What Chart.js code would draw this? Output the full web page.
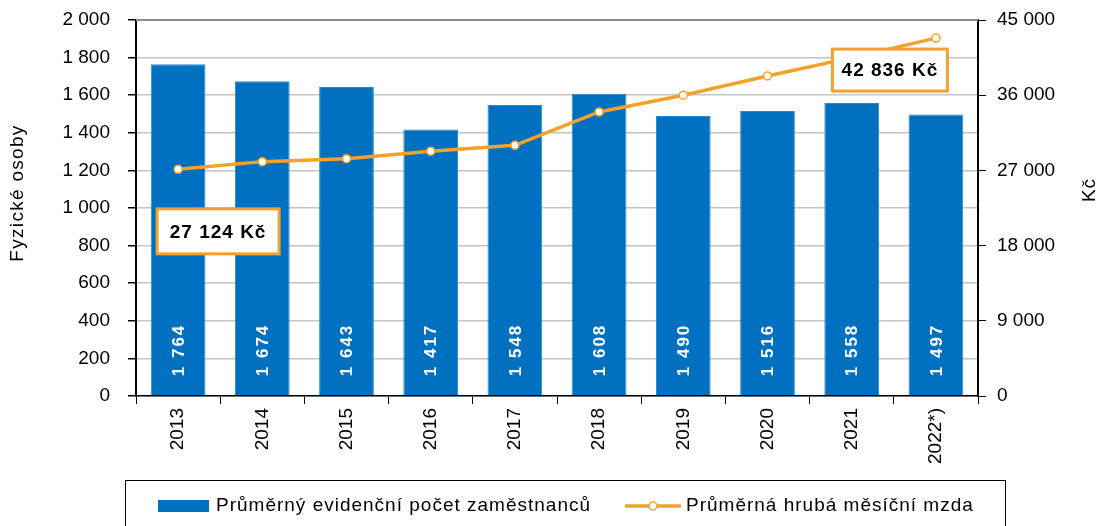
<!DOCTYPE html>
<html>
<head>
<meta charset="utf-8">
<script src="https://cdn.jsdelivr.net/npm/chart.js@4.4.1/dist/chart.umd.min.js"></script>
<style>
  html, body { margin: 0; padding: 0; background: #fff; }
  #wrap { position: relative; width: 1101px; height: 526px; }
</style>
</head>
<body>
<div id="wrap"><canvas id="chart" width="1101" height="526"></canvas></div>
<script>
// data
const years = ['2013', '2014', '2015', '2016', '2017', '2018', '2019', '2020', '2021', '2022*)'];
const employees = [1764, 1674, 1643, 1417, 1548, 1608, 1490, 1516, 1558, 1497];
const wages = [27124, 28050, 28400, 29300, 30000, 34000, 36000, 38300, 40500, 42836];
const employeesLabel = 'Průměrný evidenční počet zaměstnanců';
const wagesLabel = 'Průměrná hrubá měsíční mzda';

const BLUE = '#0070c0';
const ORANGE = '#f7a12a';
const FONT = "'Liberation Sans', Arial, sans-serif";

const fmt = n => String(n).replace(/\B(?=(\d{3})+(?!\d))/g, ' ');

// white rotated numbers inside the bars
const barLabels = {
    id: 'barLabels',
    afterDatasetsDraw(chart) {
        const ctx = chart.ctx;
        const meta = chart.getDatasetMeta(0);
        ctx.save();
        ctx.fillStyle = '#fff';
        ctx.font = 'bold 17px ' + FONT;
        ctx.letterSpacing = '2px';
        ctx.textAlign = 'left';
        ctx.textBaseline = 'middle';
        meta.data.forEach((bar, i) => {
            ctx.save();
            ctx.translate(bar.x + 1, bar.base - 19);
            ctx.rotate(-Math.PI / 2);
            ctx.fillText(fmt(employees[i]), 0, 0);
            ctx.restore();
        });
        ctx.restore();
    }
};

// callouts, axis titles, legend
const extras = {
    id: 'extras',
    afterDraw(chart) {
        const ctx = chart.ctx;
        const pts = chart.getDatasetMeta(1).data;
        const area = chart.chartArea;

        // darker top border of plot area
        ctx.save();
        ctx.strokeStyle = '#8c8c8c';
        ctx.lineWidth = 2;
        ctx.beginPath();
        ctx.moveTo(area.left, area.top);
        ctx.lineTo(area.right, area.top);
        ctx.stroke();
        ctx.restore();

        const callout = (p, dx, dy, w, h, text) => {
            const cx = p.x + dx, cy = p.y + dy;
            ctx.save();
            ctx.fillStyle = '#fff';
            ctx.strokeStyle = ORANGE;
            ctx.lineWidth = 3;
            ctx.fillRect(cx - w / 2, cy - h / 2, w, h);
            ctx.strokeRect(cx - w / 2, cy - h / 2, w, h);
            ctx.fillStyle = '#000';
            ctx.font = 'bold 19px ' + FONT;
            ctx.letterSpacing = '1px';
            ctx.textAlign = 'center';
            ctx.textBaseline = 'middle';
            ctx.fillText(text, cx, cy + 1);
            ctx.restore();
        };
        const last = wages.length - 1;
        callout(pts[0], 40, 62, 122, 45, fmt(wages[0]) + ' Kč');
        callout(pts[last], -46, 32, 115, 42, fmt(wages[last]) + ' Kč');

        // axis titles
        const vTitle = (text, x, y, spacing) => {
            ctx.save();
            ctx.fillStyle = '#000';
            ctx.font = '19px ' + FONT;
            ctx.letterSpacing = spacing;
            ctx.textAlign = 'center';
            ctx.textBaseline = 'middle';
            ctx.translate(x, y);
            ctx.rotate(-Math.PI / 2);
            ctx.fillText(text, 0, 0);
            ctx.restore();
        };
        vTitle('Fyzické osoby', 18, 193, '1.3px');
        vTitle('Kč', 1090, 190, '1px');

        // legend box
        ctx.save();
        ctx.strokeStyle = '#000';
        ctx.lineWidth = 1;
        ctx.strokeRect(125.5, 480.5, 880, 60);
        ctx.fillStyle = BLUE;
        ctx.fillRect(158, 500, 51, 12);
        ctx.fillStyle = '#000';
        ctx.font = '19px ' + FONT;
        ctx.letterSpacing = '1px';
        ctx.textBaseline = 'middle';
        ctx.fillText(employeesLabel, 216, 506);
        ctx.strokeStyle = ORANGE;
        ctx.lineWidth = 3.5;
        ctx.beginPath();
        ctx.moveTo(625, 506);
        ctx.lineTo(681, 506);
        ctx.stroke();
        ctx.fillStyle = '#fff';
        ctx.lineWidth = 1.5;
        ctx.beginPath();
        ctx.arc(653, 506, 4, 0, Math.PI * 2);
        ctx.fill();
        ctx.stroke();
        ctx.fillStyle = '#000';
        ctx.fillText(wagesLabel, 686, 506);
        ctx.restore();
    }
};

const fitY = width => scale => {
    scale.width = width;
    scale.paddingTop = 0;
    scale.paddingBottom = 0;
};

new Chart(document.getElementById('chart'), {
    type: 'bar',
    data: {
        labels: years,
        datasets: [
            {
                label: employeesLabel,
                data: employees,
                backgroundColor: BLUE,
                borderColor: '#2f86cc',
                borderWidth: { top: 1, left: 1, right: 1, bottom: 0 },
                categoryPercentage: 1,
                barPercentage: 0.65,
                yAxisID: 'y',
                order: 1
            },
            {
                type: 'line',
                label: wagesLabel,
                data: wages,
                borderColor: ORANGE,
                borderWidth: 3.5,
                pointRadius: 4,
                pointBackgroundColor: '#fff',
                pointBorderColor: ORANGE,
                pointBorderWidth: 1.5,
                tension: 0,
                yAxisID: 'y1',
                order: 0
            }
        ]
    },
    options: {
        responsive: false,
        animation: false,
        layout: { padding: { top: 20, left: 0, right: 0, bottom: 0 } },
        plugins: {
            legend: { display: false },
            tooltip: { enabled: false }
        },
        scales: {
            x: {
                grid: { drawOnChartArea: false, offset: true, tickLength: 8, color: '#000', tickColor: '#000' },
                border: { color: '#000', width: 1.5 },
                ticks: { color: '#000', font: { family: FONT, size: 19 }, minRotation: 90, maxRotation: 90, padding: 4 },
                afterFit(scale) { scale.height = 130; scale.paddingLeft = 0; scale.paddingRight = 0; }
            },
            y: {
                position: 'left',
                min: 0,
                max: 2000,
                ticks: { stepSize: 200, color: '#000', font: { family: FONT, size: 19 }, padding: 18, callback: v => fmt(v) },
                grid: { color: '#c4c4c4', lineWidth: 1.5, tickLength: 8, tickColor: '#000' },
                border: { color: '#000', width: 2 },
                afterFit: fitY(136)
            },
            y1: {
                position: 'right',
                min: 0,
                max: 45000,
                ticks: { stepSize: 9000, color: '#000', font: { family: FONT, size: 19 }, padding: 11, callback: v => fmt(v) },
                grid: { drawOnChartArea: false, tickLength: 8, tickColor: '#000' },
                border: { color: '#000', width: 2 },
                afterFit: fitY(123)
            }
        }
    },
    plugins: [barLabels, extras]
});
</script>
</body>
</html>
